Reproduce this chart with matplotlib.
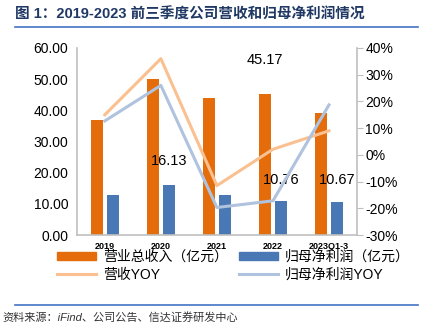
import numpy as np
import matplotlib.pyplot as plt
from matplotlib.lines import Line2D
from matplotlib.patches import Patch

plt.rcParams['font.family'] = ['Liberation Sans', 'Noto Sans CJK SC', 'DejaVu Sans']

years = ['2019', '2020', '2021', '2022', '2023Q1-3']
revenue = [36.9, 50.0, 44.1, 45.17, 39.0]
profit = [12.8, 16.13, 12.8, 10.76, 10.67]
rev_yoy = [15.0, 36.0, -11.5, 2.1, 9.0]
profit_yoy = [12.7, 26.0, -19.7, -17.2, 18.7]

c_rev = '#E46C0A'
c_pro = '#4A78B4'
c_rev_l = '#FAC090'
c_pro_l = '#AFC2DE'

fig = plt.figure(figsize=(4.22, 3.31), dpi=100)
ax = fig.add_axes([0.182, 0.290, 0.664, 0.565])
x = np.arange(len(years))
w = 0.22
ax.bar(x - 0.14, revenue, w, color=c_rev, zorder=2)
ax.bar(x + 0.14, profit, w, color=c_pro, zorder=2)
ax.set_xlim(-0.5, 4.5)
ax.set_ylim(0, 60)
ax.set_yticks(np.arange(0, 61, 10))
ax.set_yticklabels([f'{v:.2f}' for v in np.arange(0, 61, 10)], fontsize=10)
ax.set_xticks(x)
ax.set_xticklabels(years, fontsize=6.5, fontweight='bold')
ax.tick_params(axis='y', length=0, pad=6)
ax.tick_params(axis='x', length=0, pad=5)
for s in ['top', 'right']:
    ax.spines[s].set_visible(False)
for s in ['left', 'bottom']:
    ax.spines[s].set_color('#BFBFBF')
    ax.spines[s].set_linewidth(1.2)

# data labels
ax.text(1 + 0.14, 21.5, '16.13', ha='center', va='bottom', fontsize=10.5)
ax.text(3 - 0.14, 54.0, '45.17', ha='center', va='bottom', fontsize=10.5)
ax.text(3 + 0.14, 15.5, '10.76', ha='center', va='bottom', fontsize=10.5)
ax.text(4 + 0.14, 15.5, '10.67', ha='center', va='bottom', fontsize=10.5)

ax2 = ax.twinx()
ax2.plot(x, rev_yoy, color=c_rev_l, lw=2.2, zorder=3)
ax2.plot(x, profit_yoy, color=c_pro_l, lw=2.2, zorder=3)
ax2.set_ylim(-30, 40)
ax2.set_yticks(np.arange(-30, 41, 10))
ax2.set_yticklabels([f'{v}%' for v in range(-30, 41, 10)], fontsize=10)
ax2.tick_params(axis='y', length=4, color='#BFBFBF', pad=2)
for s in ['top', 'left', 'bottom']:
    ax2.spines[s].set_visible(False)
ax2.spines['right'].set_color('#BFBFBF')
ax2.spines['right'].set_linewidth(1.2)

# column-wise fill: rev / rev yoy in column 1, profit / profit yoy in column 2
handles = [Patch(color=c_rev), Line2D([], [], color=c_rev_l, lw=2.2),
           Patch(color=c_pro), Line2D([], [], color=c_pro_l, lw=2.2)]
labels = ['营业总收入（亿元）', '营收YOY', '归母净利润（亿元）', '归母净利润YOY']
fig.legend(handles, labels, loc='upper left', bbox_to_anchor=(0.135, 0.245), ncol=2,
           frameon=False, fontsize=10, handlelength=2.8, handleheight=0.6,
           columnspacing=0.8, handletextpad=0.5, labelspacing=0.3,
           borderaxespad=0, borderpad=0)

fig.text(0.035, 0.955, '图 1：2019-2023 前三季度公司营收和归母净利润情况', fontsize=10.5,
         fontweight='bold', color='#1F3864', va='center')
fig.add_artist(Line2D([0.035, 0.99], [0.918, 0.918], color='#4472C4', lw=1.2))
fig.add_artist(Line2D([0.035, 0.99], [0.078, 0.078], color='#4472C4', lw=1.2))
fig.text(0.005, 0.04, '资料来源：iFind、公司公告、信达证券研发中心', fontsize=8,
         style='italic', va='center', color='#333333')

fig.savefig('out.png', dpi=100)
